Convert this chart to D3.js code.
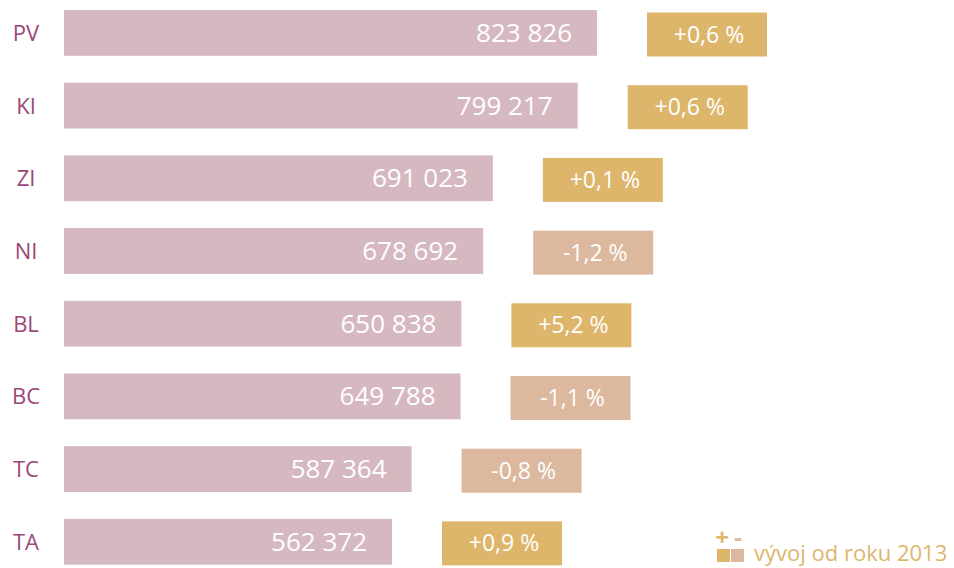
<!DOCTYPE html>
<html>
<head>
<meta charset="utf-8">
<script src="https://cdn.jsdelivr.net/npm/d3@7"></script>
<style>
  body { margin: 0; background: #fff; }
  svg { font-family: "Open Sans", "Noto Sans", sans-serif; }
</style>
</head>
<body>
<div id="chart"></div>
<script>
// Regions and values
var categories = ["PV", "KI", "ZI", "NI", "BL", "BC", "TC", "TA"];
var values = [823826, 799217, 691023, 678692, 650838, 649788, 587364, 562372];
// change since 2013, percent
var changes = [0.6, 0.6, 0.1, -1.2, 5.2, -1.1, -0.8, 0.9];
var legendLabel = "vývoj od roku 2013";

var data = categories.map(function(c, i) {
  return { name: c, value: values[i], change: changes[i] };
});

var width = 954, height = 568;

var svg = d3.select("#chart")
  .append("svg")
  .attr("width", width)
  .attr("height", height);

var locale = d3.formatLocale({ decimal: ",", thousands: " ", grouping: [3], currency: ["", ""], minus: "-" });
var fmtValue = locale.format(",d");
var fmtChange = locale.format("+.1f");

// x axis is cut, bars don't start at zero
var xScale = d3.scaleLinear()
  .domain([144000, 823826])
  .range([64, 597]);

var step = 72.7;
var yScale = d3.scaleBand()
  .domain(categories)
  .range([10 - step * 0.185, 10 - step * 0.185 + step * categories.length])
  .paddingInner(0.37)
  .paddingOuter(0.185);

var barColor = "#d6b8c1";
var posColor = "#ddb66c";
var negColor = "#dcb99e";
var labelColor = "#9b4777";

var rows = svg.selectAll(".row")
  .data(data)
  .enter()
  .append("g")
  .attr("class", "row");

// category labels
rows.append("text")
  .attr("x", 26)
  .attr("y", function(d) { return yScale(d.name) + yScale.bandwidth() / 2 + 8; })
  .attr("text-anchor", "middle")
  .style("fill", labelColor)
  .style("font-size", "22px")
  .text(function(d) { return d.name; });

// bars
rows.append("rect")
  .attr("x", xScale.range()[0])
  .attr("y", function(d) { return yScale(d.name); })
  .attr("width", function(d) { return xScale(d.value) - xScale.range()[0]; })
  .attr("height", yScale.bandwidth())
  .attr("fill", barColor);

// value labels inside the bars
rows.append("text")
  .attr("x", function(d) { return xScale(d.value) - 25; })
  .attr("y", function(d) { return yScale(d.name) + yScale.bandwidth() / 2 + 9; })
  .attr("text-anchor", "end")
  .style("fill", "#fff")
  .style("font-size", "26px")
  .text(function(d) { return fmtValue(d.value); });

// change boxes
var boxW = 120, boxH = 44, gap = 50;
rows.append("rect")
  .attr("x", function(d) { return xScale(d.value) + gap; })
  .attr("y", function(d) { return yScale(d.name) + 2.5; })
  .attr("width", boxW)
  .attr("height", boxH)
  .attr("fill", function(d) { return d.change >= 0 ? posColor : negColor; });

rows.append("text")
  .attr("x", function(d) { return xScale(d.value) + gap + boxW / 2 + 2; })
  .attr("y", function(d) { return yScale(d.name) + 2.5 + boxH / 2 + 8; })
  .attr("text-anchor", "middle")
  .style("fill", "#fff")
  .style("font-size", "23px")
  .text(function(d) { return fmtChange(d.change) + " %"; });

// legend
var legend = svg.append("g")
  .attr("class", "legend")
  .attr("transform", "translate(717, 549)");

legend.append("rect")
  .attr("width", 13).attr("height", 13)
  .attr("fill", posColor);

legend.append("rect")
  .attr("x", 14)
  .attr("width", 13).attr("height", 13)
  .attr("fill", negColor);

legend.append("text")
  .attr("x", 5).attr("y", -3)
  .attr("text-anchor", "middle")
  .style("fill", posColor)
  .style("font-size", "24px")
  .style("font-weight", "bold")
  .text("+");

legend.append("text")
  .attr("x", 21).attr("y", -3)
  .attr("text-anchor", "middle")
  .style("fill", negColor)
  .style("font-size", "24px")
  .style("font-weight", "bold")
  .text("-");

legend.append("text")
  .attr("x", 37).attr("y", 12)
  .style("fill", posColor)
  .style("font-size", "22px")
  .text(legendLabel);
</script>
</body>
</html>
